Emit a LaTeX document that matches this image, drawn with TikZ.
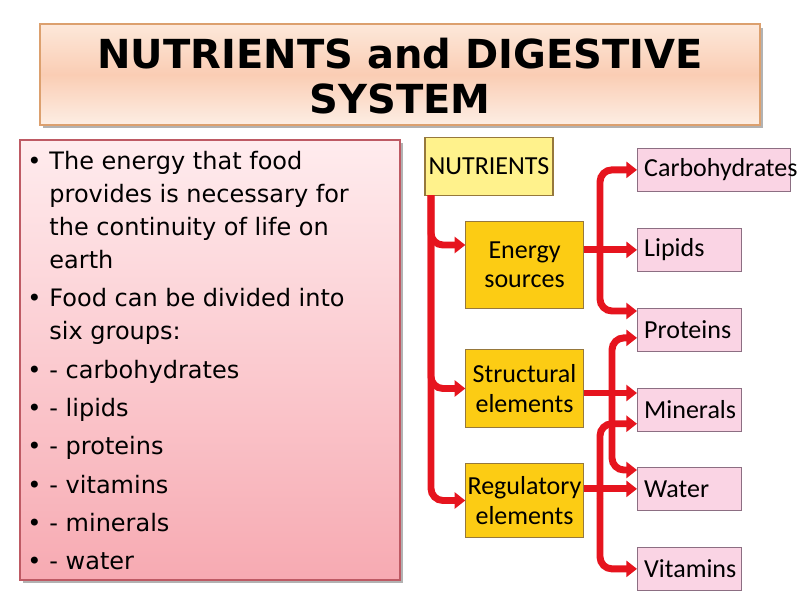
\documentclass[tikz,border=0pt]{standalone}
\usepackage{fontspec}
\setmainfont{DejaVu Sans}
\newfontfamily\dfont{Carlito}
\usetikzlibrary{arrows.meta,calc}
\definecolor{arrred}{RGB}{230,20,30}
\definecolor{ybrd}{RGB}{150,120,60}
\definecolor{yfill}{RGB}{252,204,20}
\definecolor{nfill}{RGB}{255,242,140}
\definecolor{pbrd}{RGB}{140,110,130}
\definecolor{pfill}{RGB}{250,212,228}
\definecolor{tt}{RGB}{253,232,218}
\definecolor{tb}{RGB}{253,238,228}
\definecolor{tm}{RGB}{250,205,180}
\definecolor{tbrd}{RGB}{220,160,110}
\definecolor{bt}{RGB}{255,236,238}
\definecolor{bb}{RGB}{247,170,178}
\definecolor{bbrd}{RGB}{190,90,100}
\begin{document}
\begin{tikzpicture}[x=0.75pt,y=-0.75pt,
  redarr/.style={draw=arrred,line width=5.2pt,-{Triangle[length=8pt,width=12pt]},rounded corners=9pt},
  ybox/.style={draw=ybrd,line width=0.8pt,fill=yfill,font=\dfont\fontsize{19.5}{22}\selectfont,align=center,inner sep=0pt},
  pbox/.style={draw=pbrd,line width=0.8pt,fill=pfill,font=\dfont\fontsize{19.5}{22}\selectfont,anchor=north west,inner xsep=5pt,inner ysep=0pt,align=left,minimum height=32pt}]
\useasboundingbox (0,0) rectangle (800,600);
\fill[white] (0,0) rectangle (800,600);
% title
\fill[gray!60] (43,28) rectangle (763,128);
\shade[top color=tt,bottom color=tb,middle color=tm] (40,24) rectangle (760,125);
\draw[tbrd,line width=0.8pt] (40,24) rectangle (760,125);
\node[font=\bfseries\fontsize{30}{34}\selectfont,align=center] (title) at (400,76) {NUTRIENTS and DIGESTIVE\\SYSTEM};
% text box
\fill[gray!60] (23,143) rectangle (403,583);
\shade[top color=bt,bottom color=bb] (20,140) rectangle (400,580);
\draw[bbrd,line width=0.8pt] (20,140) rectangle (400,580);
\node[anchor=north west,inner sep=0pt,font=\fontsize{18}{24.75}\selectfont] (body) at (27,146) {%
\begin{tabular}{@{}l@{\hspace{6pt}}l@{}}
• & The energy that food\\
 & provides is necessary for\\
 & the continuity of life on\\
 & earth\\[4pt]
• & Food can be divided into\\
 & six groups:\\[4pt]
• & - carbohydrates\\[4pt]
• & - lipids\\[4pt]
• & - proteins\\[4pt]
• & - vitamins\\[4pt]
• & - minerals\\[4pt]
• & - water
\end{tabular}};
% diagram
\node[ybox,fill=nfill,minimum width=96pt,minimum height=43pt] (nut) at (489,166.5) {NUTRIENTS};
\node[ybox,minimum width=88pt,minimum height=65pt] (en) at (524.5,265) {Energy\\sources};
\node[ybox,minimum width=88pt,minimum height=58pt] (st) at (524.5,388.5) {Structural\\elements};
\node[ybox,minimum width=88pt,minimum height=56pt] (rg) at (524.5,500.5) {Regulatory\\elements};
\node[pbox,text width=105pt] (ca) at (637,148) {Carbohydrates};
\node[pbox,text width=68pt] (li) at (637,228) {Lipids};
\node[pbox,text width=68pt] (pr) at (637,308) {Proteins};
\node[pbox,text width=68pt] (mi) at (637,388) {Minerals};
\node[pbox,text width=68pt] (wa) at (637,467) {Water};
\node[pbox,text width=68pt] (vi) at (637,547) {Vitamins};
\coordinate (tr) at (431,195);
\coordinate (eb) at (600,249);
\coordinate (sb) at (612,393);
\coordinate (rb) at (600,498);
% left trunk
\draw[redarr] (tr) |- ($(en.west)+(0,-20)$);
\draw[redarr] (tr) |- (st.west);
\draw[redarr] (tr) |- (rg.west);
% energy
\draw[redarr] (en.east |- li.west) -- (li.west);
\draw[redarr] (eb) |- (ca.west);
\draw[redarr] (eb) |- ($(pr.north west)+(0,3)$);
% structural
\draw[redarr] (st.east |- sb) -- (sb -| mi.west);
\draw[redarr] (sb) |- ($(pr.west)+(0,8)$);
\draw[redarr] (sb) |- ($(wa.north west)+(0,3)$);
% regulatory
\draw[redarr] (rg.east |- wa.west) -- (wa.west);
\draw[redarr] (rb) |- ($(mi.south west)+(0,-8)$);
\draw[redarr] (rb) |- (vi.west);
\end{tikzpicture}
\end{document}
